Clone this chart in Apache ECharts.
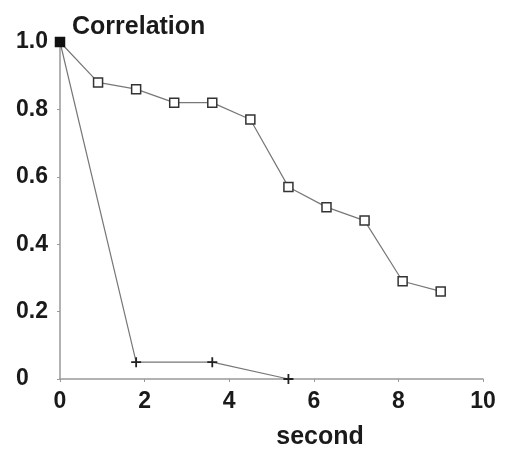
<!DOCTYPE html>
<html>
<head>
<meta charset="utf-8">
<script src="https://cdn.jsdelivr.net/npm/echarts@6/dist/echarts.min.js"></script>
<style>
html,body{margin:0;padding:0;background:#fff;}
#chart{width:505px;height:456px;}
</style>
</head>
<body>
<div id="chart"></div>
<script>
// Data
const squareX = [0, 0.9, 1.8, 2.7, 3.6, 4.5, 5.4, 6.3, 7.2, 8.1, 9.0];
const squareY = [1.0, 0.88, 0.86, 0.82, 0.82, 0.77, 0.57, 0.51, 0.47, 0.29, 0.26];
const plusX = [0, 1.8, 3.6, 5.4];
const plusY = [1.0, 0.05, 0.05, 0.0];
const xTickLabels = ['0', '2', '4', '6', '8', '10'];
const yTickLabels = ['0', '0.2', '0.4', '0.6', '0.8', '1.0'];
const yAxisName = 'Correlation';
const xAxisName = 'second';

const font = 'Liberation Sans, Arial, sans-serif';
const plusPath = 'path://M4.1,0H5.9V4.1H10V5.9H5.9V10H4.1V5.9H0V4.1H4.1Z';

const squareData = squareX.map((x, i) => {
  const d = { value: [x, squareY[i]] };
  if (i === 0) d.itemStyle = { color: '#111', borderColor: '#111' };
  return d;
});
const plusData = plusX.map((x, i) => [x, plusY[i]]);

const chart = echarts.init(document.getElementById('chart'));
chart.setOption({
  animation: false,
  backgroundColor: '#fff',
  grid: { left: 60, right: 22, top: 42, bottom: 77, containLabel: false },
  xAxis: {
    type: 'value', min: 0, max: 10, interval: 2,
    name: xAxisName, nameLocation: 'middle', nameGap: 46,
    nameTextStyle: { fontFamily: font, fontWeight: 'bold', fontSize: 25, color: '#1a1a1a', padding: [0, 0, 0, 97] },
    axisLine: { lineStyle: { color: '#999', width: 1.5 } },
    axisTick: { show: true, length: 3, lineStyle: { color: '#999' } },
    splitLine: { show: false },
    axisLabel: {
      margin: 11, fontFamily: font, fontWeight: 'bold', fontSize: 23, color: '#1a1a1a',
      formatter: v => xTickLabels[Math.round(v / 2)]
    }
  },
  yAxis: {
    type: 'value', min: 0, max: 1, interval: 0.2,
    name: yAxisName, nameLocation: 'end', nameGap: 2,
    nameTextStyle: { fontFamily: font, fontWeight: 'bold', fontSize: 25, color: '#1a1a1a', align: 'left', padding: [0, 0, 0, 12] },
    axisLine: { show: true, lineStyle: { color: '#999', width: 1.5 } },
    axisTick: { show: true, length: 3, lineStyle: { color: '#999' } },
    splitLine: { show: false },
    axisLabel: {
      margin: 44, align: 'left', fontFamily: font, fontWeight: 'bold', fontSize: 23, color: '#1a1a1a',
      padding: [8, 0, 0, 0],
      formatter: v => yTickLabels[Math.round(v * 5)]
    }
  },
  series: [
    {
      type: 'line', data: plusData, z: 2,
      symbol: plusPath, symbolSize: 10,
      lineStyle: { color: '#777', width: 1.2 },
      itemStyle: { color: '#222' }
    },
    {
      type: 'line', data: squareData, z: 3,
      symbol: 'rect', symbolSize: 9,
      lineStyle: { color: '#777', width: 1.2 },
      itemStyle: { color: '#fff', borderColor: '#333', borderWidth: 1.5 }
    }
  ]
});
</script>
</body>
</html>
